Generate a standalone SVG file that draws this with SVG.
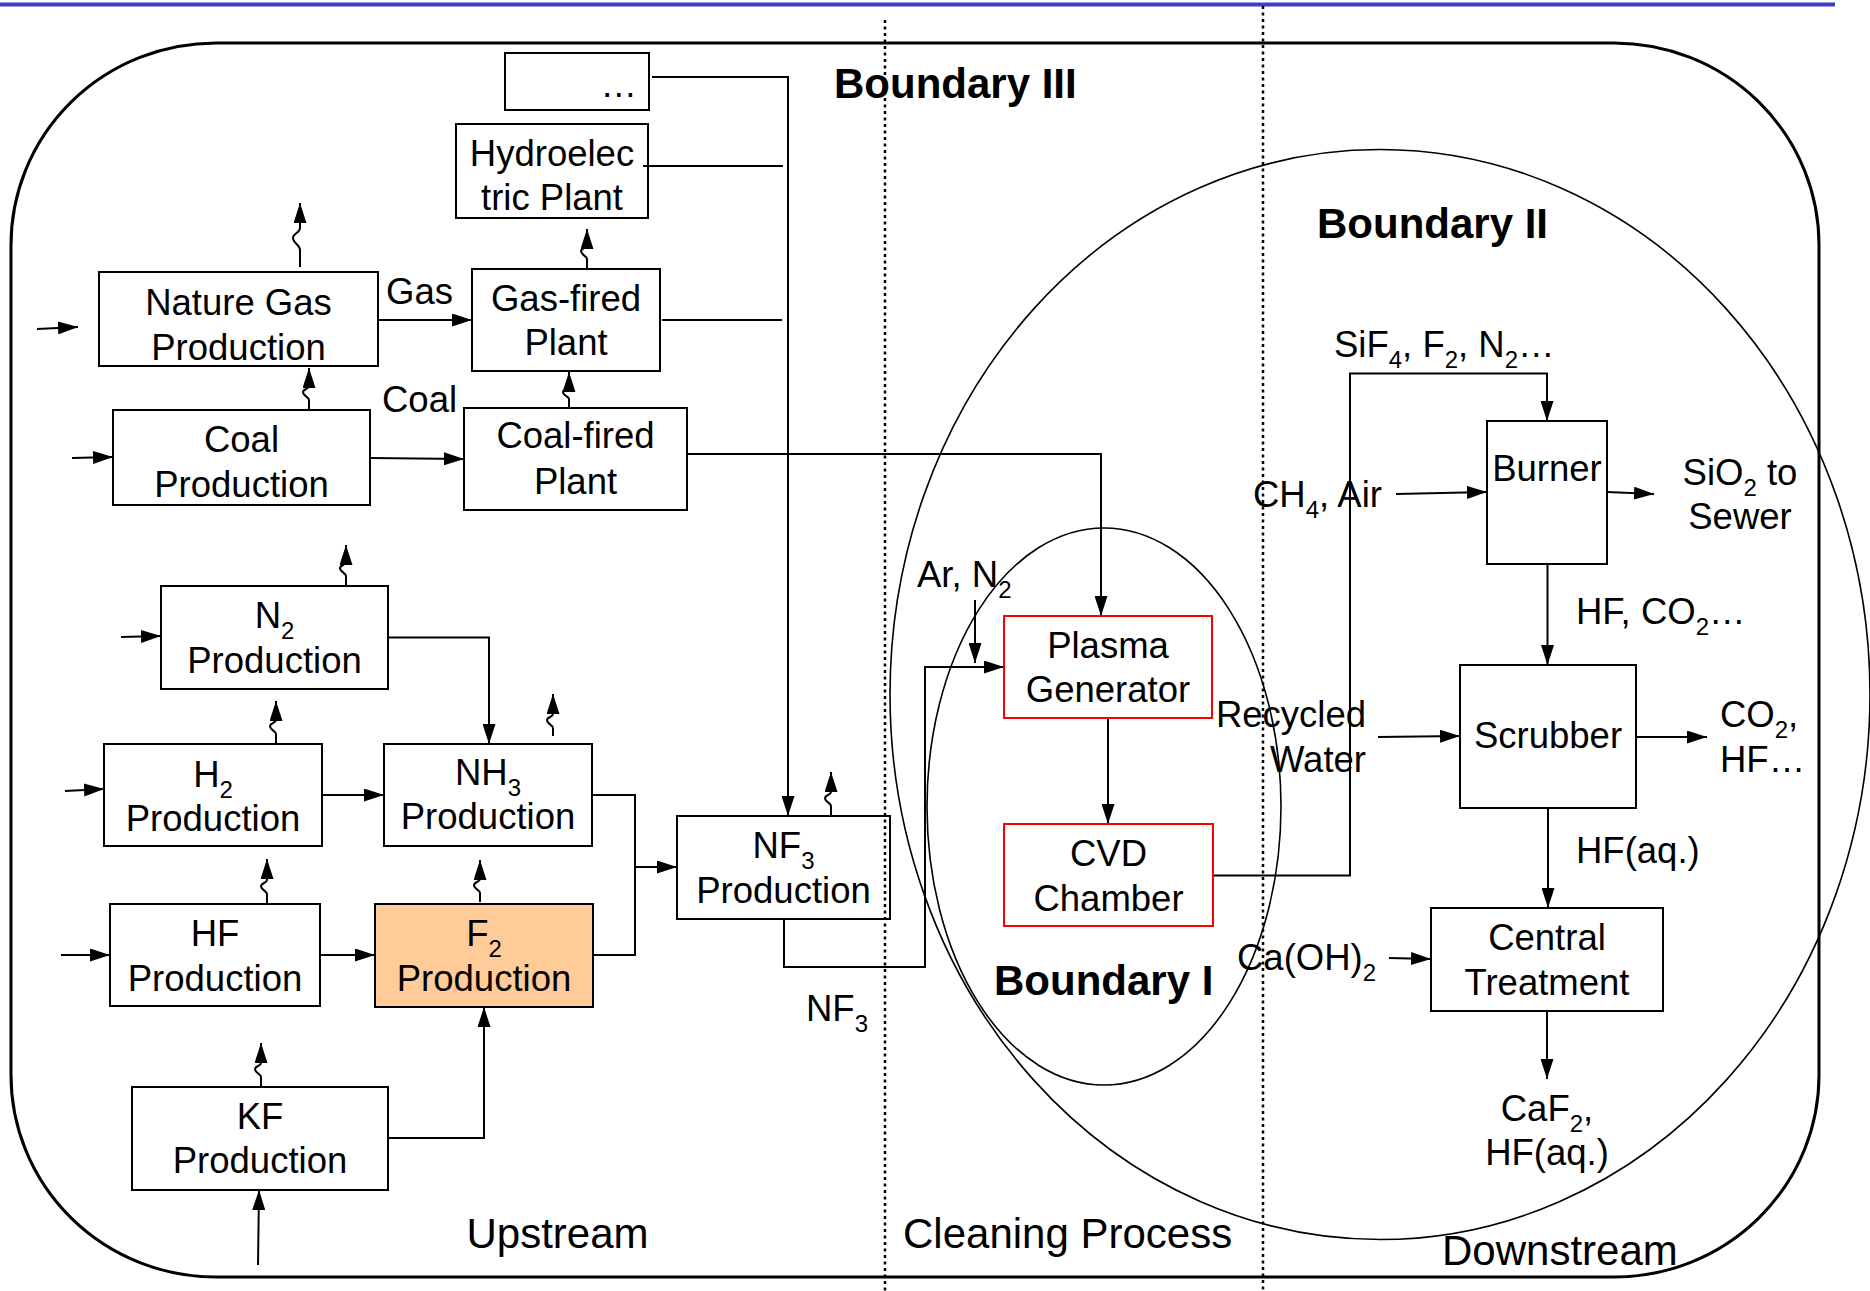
<svg xmlns="http://www.w3.org/2000/svg" width="1870" height="1291" viewBox="0 0 1870 1291">
<defs>
<marker id="ah" markerUnits="userSpaceOnUse" markerWidth="20" markerHeight="13" refX="20" refY="6.5" orient="auto"><path d="M0,0 L20,6.5 L0,13 Z" fill="#000"/></marker>
<style>
text{font-family:"Liberation Sans",Arial,sans-serif;font-size:36.5px;fill:#000}
.c{text-anchor:middle}
.e{text-anchor:end}
.b{font-weight:bold;font-size:42px}
.r{font-size:42px}
.box{fill:none;stroke:#000;stroke-width:2}
.red{fill:none;stroke:#f00;stroke-width:2}
.ln{fill:none;stroke:#000;stroke-width:2}
.ar{marker-end:url(#ah)}
.sub{font-size:24px}
.dot{stroke:#000;stroke-width:2.5;stroke-dasharray:3 3.5}
.bd{fill:none;stroke:#000;stroke-width:1.6}
</style>
</defs>
<rect width="1870" height="1291" fill="#fff"/>
<line x1="0" y1="4.5" x2="1835" y2="4.5" stroke="#3d3dcc" stroke-width="4"/>

<g id="boundaries">
<rect x="11" y="43" width="1808" height="1234" rx="205" ry="202" fill="none" stroke="#000" stroke-width="3"/>
<ellipse class="bd" cx="1380" cy="694.5" rx="490" ry="545"/>
<ellipse class="bd" cx="1104" cy="806.5" rx="177" ry="278.5"/>
<line class="dot" x1="885" y1="20" x2="885" y2="1291"/>
<line class="dot" x1="1263" y1="6" x2="1263" y2="1291"/>
<text class="b" x="834" y="98">Boundary III</text>
<text class="b" x="1317" y="237.5">Boundary II</text>
<text class="b" x="994" y="994.5">Boundary I</text>
<text class="r" x="466.5" y="1248">Upstream</text>
<text class="r" x="903" y="1248">Cleaning Process</text>
<text class="r" x="1442" y="1265">Downstream</text>
</g>

<g id="connectors">
<path class="ln ar" d="M37 329 L78 327"/>
<path class="ln ar" d="M72 458 L113 457"/>
<path class="ln ar" d="M121 637 L161 636"/>
<path class="ln ar" d="M65 791 L104 789"/>
<path class="ln ar" d="M61 955 L110 955"/>
<path class="ln ar" d="M258 1265 L259 1190"/>
<path class="ln ar" d="M378 320 L472 320"/>
<path class="ln ar" d="M370 458 L464 459"/>
<path class="ln ar" d="M300 267 v-17 c0-5 -7-7 -7-12 c0-5 7-5 7-10 V203"/>
<path class="ln ar" d="M309 410 v-10 c0-3 -6-4 -6-8 c0-3 6-3 6-6 V368"/>
<path class="ln ar" d="M587 269 v-10 c0-3 -6-4 -6-8 c0-3 6-3 6-6 V229"/>
<path class="ln ar" d="M569 408 v-9 c0-3 -6-3 -6-7 c0-3 6-3 6-5 V372"/>
<path class="ln ar" d="M346 586 v-10 c0-3 -6-4 -6-8 c0-3 6-3 6-6 V545"/>
<path class="ln ar" d="M276 744 v-10 c0-3 -6-4 -6-8 c0-3 6-3 6-6 V701"/>
<path class="ln ar" d="M553 736 v-8 c0-3 -6-4 -6-8 c0-3 6-3 6-6 V694"/>
<path class="ln ar" d="M267 904 v-10 c0-3 -6-4 -6-8 c0-3 6-3 6-6 V859"/>
<path class="ln ar" d="M480 902 v-9 c0-3 -6-4 -6-8 c0-3 6-3 6-6 V860"/>
<path class="ln ar" d="M261 1087 v-10 c0-3 -6-4 -6-8 c0-3 6-3 6-6 V1043"/>
<path class="ln ar" d="M831 816 v-10 c0-3 -6-4 -6-8 c0-3 6-3 6-6 V772"/>
<path class="ln ar" d="M388 637.5 H489 V744"/>
<path class="ln ar" d="M322 795 H384"/>
<path class="ln ar" d="M320 955 H375"/>
<path class="ln ar" d="M388 1138 H484 V1007"/>
<path class="ln" d="M592 795 H635 V955 H593"/>
<path class="ln ar" d="M635 867 H677"/>
<path class="ln ar" d="M652 77 H788 V816"/>
<path class="ln" d="M643 166 H783"/>
<path class="ln" d="M662 320 H782"/>
<path class="ln ar" d="M688 454 H1101 V616"/>
<path class="ln ar" d="M784 919 V967 H925 V667 H1004"/>
<path class="ln ar" d="M975 600 V663"/>
<path class="ln ar" d="M1108 718 V824"/>
<path class="ln ar" d="M1213 875.5 H1350 V373.5 H1547 V421"/>
<path class="ln ar" d="M1396 494 L1487 492"/>
<path class="ln ar" d="M1607 492 L1654 494"/>
<path class="ln ar" d="M1547.5 564 V665"/>
<path class="ln ar" d="M1378 737 L1460 736"/>
<path class="ln ar" d="M1636 737 H1707"/>
<path class="ln ar" d="M1548 808 V908"/>
<path class="ln ar" d="M1389 958 L1431 959"/>
<path class="ln ar" d="M1547 1011 V1079"/>
</g>

<g id="labels">
<text x="386" y="304">Gas</text>
<text x="382" y="412">Coal</text>
<text x="806" y="1021">NF<tspan class="sub" dy="11">3</tspan></text>
<text x="917" y="587">Ar, N<tspan class="sub" dy="11">2</tspan></text>
<text x="1334" y="357">SiF<tspan class="sub" dy="11">4</tspan><tspan dy="-11">, F</tspan><tspan class="sub" dy="11">2</tspan><tspan dy="-11">, N</tspan><tspan class="sub" dy="11">2</tspan><tspan dy="-11">…</tspan></text>
<text x="1253" y="507">CH<tspan class="sub" dy="11">4</tspan><tspan dy="-11">, Air</tspan></text>
<text class="c" x="1740" y="485">SiO<tspan class="sub" dy="11">2</tspan><tspan dy="-11"> to</tspan></text>
<text class="c" x="1740" y="529">Sewer</text>
<text x="1576" y="623.5">HF, CO<tspan class="sub" dy="11">2</tspan><tspan dy="-11">…</tspan></text>
<text class="e" x="1366" y="727">Recycled</text>
<text class="e" x="1366" y="772">Water</text>
<text x="1720" y="727">CO<tspan class="sub" dy="11">2</tspan><tspan dy="-11">,</tspan></text>
<text x="1720" y="772">HF…</text>
<text x="1576" y="862.5">HF(aq.)</text>
<text x="1237" y="970">Ca(OH)<tspan class="sub" dy="11">2</tspan></text>
<text class="c" x="1547" y="1121">CaF<tspan class="sub" dy="11">2</tspan><tspan dy="-11">,</tspan></text>
<text class="c" x="1547" y="1165">HF(aq.)</text>
</g>

<g id="other"><rect class="box" x="505" y="53" width="144" height="57"/><text class="e" x="637" y="97">…</text></g>
<g id="hydro"><rect class="box" x="456" y="124" width="192" height="94"/><text class="c" x="552" y="166">Hydroelec</text><text class="c" x="552" y="210">tric Plant</text></g>
<g id="natgas"><rect class="box" x="99" y="272" width="279" height="94"/><text class="c" x="238.5" y="315">Nature Gas</text><text class="c" x="238.5" y="360">Production</text></g>
<g id="gasfired"><rect class="box" x="472" y="269" width="188" height="102"/><text class="c" x="566" y="311">Gas-fired</text><text class="c" x="566" y="355">Plant</text></g>
<g id="coal"><rect class="box" x="113" y="410" width="257" height="95"/><text class="c" x="241.5" y="452">Coal</text><text class="c" x="241.5" y="497">Production</text></g>
<g id="coalfired"><rect class="box" x="464" y="408" width="223" height="102"/><text class="c" x="575.5" y="448">Coal-fired</text><text class="c" x="575.5" y="494">Plant</text></g>
<g id="n2"><rect class="box" x="161" y="586" width="227" height="103"/><text class="c" x="274.5" y="628">N<tspan class="sub" dy="11">2</tspan></text><text class="c" x="274.5" y="673">Production</text></g>
<g id="h2"><rect class="box" x="104" y="744" width="218" height="102"/><text class="c" x="213" y="787">H<tspan class="sub" dy="11">2</tspan></text><text class="c" x="213" y="831">Production</text></g>
<g id="nh3"><rect class="box" x="384" y="744" width="208" height="102"/><text class="c" x="488" y="785">NH<tspan class="sub" dy="11">3</tspan></text><text class="c" x="488" y="829">Production</text></g>
<g id="hf"><rect class="box" x="110" y="904" width="210" height="102"/><text class="c" x="215" y="946">HF</text><text class="c" x="215" y="991">Production</text></g>
<g id="f2"><rect x="375" y="904" width="218" height="103" fill="#ffcc99" stroke="#000" stroke-width="2"/><text class="c" x="484" y="946">F<tspan class="sub" dy="11">2</tspan></text><text class="c" x="484" y="991">Production</text></g>
<g id="kf"><rect class="box" x="132" y="1087" width="256" height="103"/><text class="c" x="260" y="1129">KF</text><text class="c" x="260" y="1173">Production</text></g>
<g id="nf3"><rect class="box" x="677" y="816" width="213" height="103"/><text class="c" x="783.5" y="858">NF<tspan class="sub" dy="11">3</tspan></text><text class="c" x="783.5" y="903">Production</text></g>
<g id="plasma"><rect class="red" x="1004" y="616" width="208" height="102"/><text class="c" x="1108" y="657.5">Plasma</text><text class="c" x="1108" y="702">Generator</text></g>
<g id="cvd"><rect class="red" x="1004" y="824" width="209" height="102"/><text class="c" x="1108.5" y="866">CVD</text><text class="c" x="1108.5" y="911">Chamber</text></g>
<g id="burner"><rect class="box" x="1487" y="421" width="120" height="143"/><text class="c" x="1547" y="480.5">Burner</text></g>
<g id="scrubber"><rect class="box" x="1460" y="665" width="176" height="143"/><text class="c" x="1548" y="748">Scrubber</text></g>
<g id="central"><rect class="box" x="1431" y="908" width="232" height="103"/><text class="c" x="1547" y="950">Central</text><text class="c" x="1547" y="995">Treatment</text></g>
</svg>
